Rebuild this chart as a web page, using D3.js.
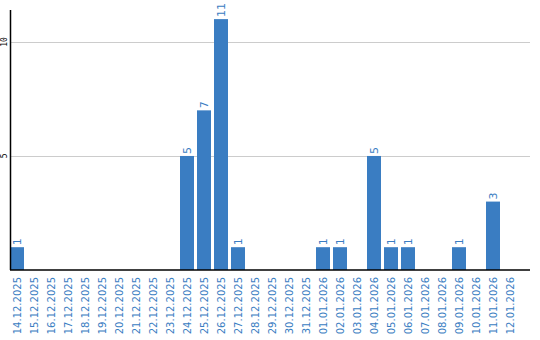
<!DOCTYPE html>
<html>
<head>
<meta charset="utf-8">
<script src="https://cdn.jsdelivr.net/npm/d3@7"></script>
<style>
  body { margin: 0; background: #fff; }
  svg { display: block; }
</style>
</head>
<body>
<svg id="chart" width="540" height="340"></svg>
<script>
var dates = ['14.12.2025', '15.12.2025', '16.12.2025', '17.12.2025', '18.12.2025',
  '19.12.2025', '20.12.2025', '21.12.2025', '22.12.2025', '23.12.2025',
  '24.12.2025', '25.12.2025', '26.12.2025', '27.12.2025', '28.12.2025',
  '29.12.2025', '30.12.2025', '31.12.2025', '01.01.2026', '02.01.2026',
  '03.01.2026', '04.01.2026', '05.01.2026', '06.01.2026', '07.01.2026',
  '08.01.2026', '09.01.2026', '10.01.2026', '11.01.2026', '12.01.2026'];
var counts = [1, 0, 0, 0, 0, 0, 0, 0, 0, 0,
  5, 7, 11, 1, 0, 0, 0, 0, 1, 1,
  0, 5, 1, 1, 0, 0, 1, 0, 3, 0];
var yTicks = [5, 10];

var blue = '#3a7dc2';
var svg = d3.select('#chart');

var x = d3.scaleBand()
  .domain(dates)
  .range([10, 520])
  .padding(0);
var y = d3.scaleLinear()
  .domain([0, 11.4])
  .range([270, 10]);

// grid
svg.append('g')
  .selectAll('line')
  .data(yTicks)
  .enter().append('line')
  .attr('x1', 11)
  .attr('x2', 530)
  .attr('y1', function(d) { return Math.round(y(d)) + 0.5; })
  .attr('y2', function(d) { return Math.round(y(d)) + 0.5; })
  .attr('stroke', '#cccccc')
  .attr('stroke-width', 1);

// y tick labels
svg.append('g')
  .selectAll('text')
  .data(yTicks)
  .enter().append('text')
  .attr('transform', function(d) { return 'translate(7,' + y(d) + ') rotate(-90)'; })
  .attr('text-anchor', 'middle')
  .attr('font-family', 'DejaVu Sans Mono, monospace')
  .attr('font-size', 8)
  .attr('fill', '#000')
  .text(function(d) { return d; });

// bars
var bars = svg.append('g')
  .selectAll('g')
  .data(dates.map(function(d, i) { return { date: d, value: counts[i] }; }))
  .enter().append('g');

bars.filter(function(d) { return d.value > 0; })
  .append('rect')
  .attr('x', function(d) { return x(d.date); })
  .attr('y', function(d) { return y(d.value); })
  .attr('width', x.bandwidth() - 3)
  .attr('height', function(d) { return y(0) - y(d.value); })
  .attr('fill', blue);

bars.filter(function(d) { return d.value > 0; })
  .append('text')
  .attr('transform', function(d) {
    return 'translate(' + (x(d.date) + (x.bandwidth() - 3) / 2 + 4) + ',' + (y(d.value) - 2) + ') rotate(-90)';
  })
  .attr('font-family', 'DejaVu Sans, sans-serif')
  .attr('font-size', 11)
  .attr('fill', blue)
  .text(function(d) { return d.value; });

// x labels
bars.append('text')
  .attr('transform', function(d) {
    return 'translate(' + (x(d.date) + (x.bandwidth() - 3) / 2 + 4) + ',277) rotate(-90)';
  })
  .attr('text-anchor', 'end')
  .attr('font-family', 'DejaVu Sans, sans-serif')
  .attr('font-size', 10)
  .attr('fill', blue)
  .text(function(d) { return d.date; });

// axes
svg.append('line')
  .attr('x1', 10.5).attr('x2', 10.5)
  .attr('y1', 10).attr('y2', 270)
  .attr('stroke', '#000').attr('stroke-width', 1.5);
svg.append('line')
  .attr('x1', 10).attr('x2', 530)
  .attr('y1', 270).attr('y2', 270)
  .attr('stroke', '#000').attr('stroke-width', 1.5);
</script>
</body>
</html>
